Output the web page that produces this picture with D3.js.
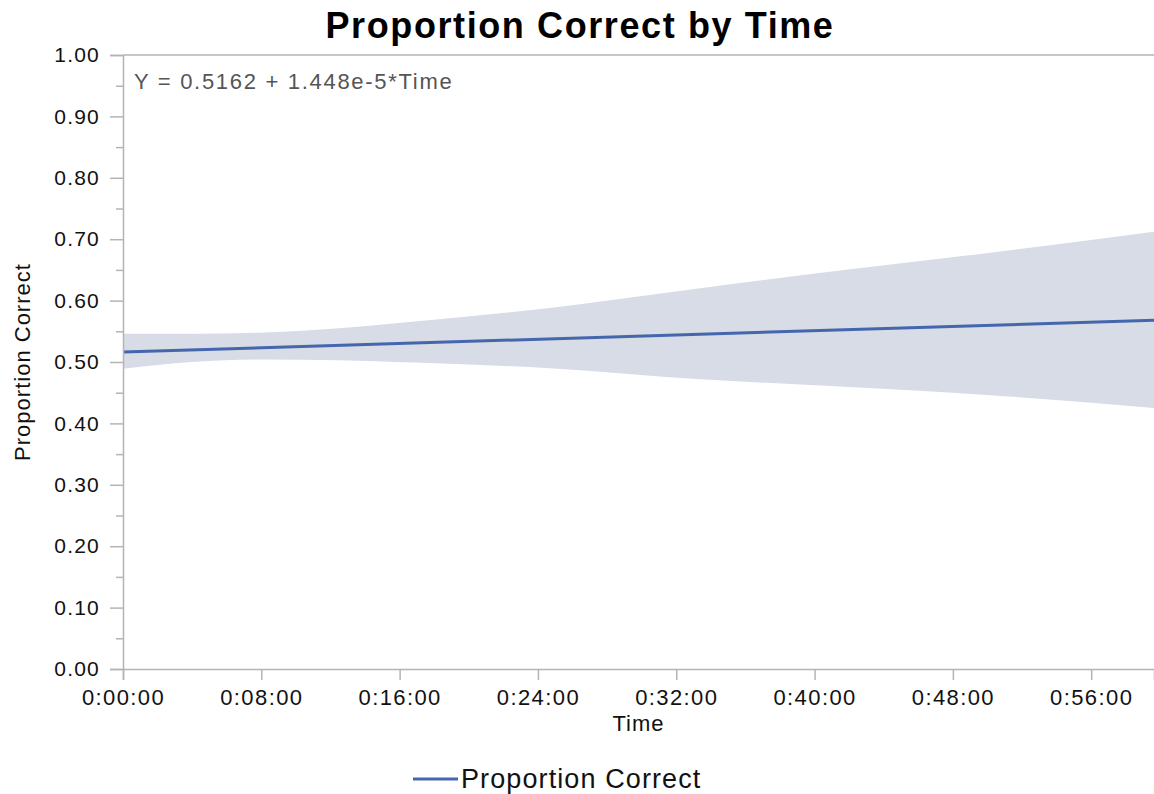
<!DOCTYPE html>
<html>
<head>
<meta charset="utf-8">
<script src="https://cdn.jsdelivr.net/npm/d3@7"></script>
<style>
  html, body { margin: 0; padding: 0; background: #fff; }
  svg { display: block; font-family: "Liberation Sans", Arial, Helvetica, sans-serif; }
</style>
</head>
<body>
<svg id="chart" width="1154" height="794"></svg>
<script>
// Linear fit of proportion correct against elapsed time (seconds)
const fitIntercept = 0.5162;
const fitSlope = 1.448e-5;
const timeRange = [0, 3578];

// Confidence band around the fit, sampled along time (seconds)
const bandTime  = [0,     240,   493,   750,   1013,  1482,  2003,  2488,  3009,  3578];
const bandUpper = [0.546, 0.546, 0.548, 0.555, 0.566, 0.588, 0.620, 0.649, 0.678, 0.712];
const bandLower = [0.489, 0.500, 0.504, 0.503, 0.499, 0.490, 0.472, 0.460, 0.446, 0.425];

// Axis ticks
const xTickSeconds = [0, 480, 960, 1440, 1920, 2400, 2880, 3360];
const yMajorTicks = [0, 0.1, 0.2, 0.3, 0.4, 0.5, 0.6, 0.7, 0.8, 0.9, 1.0];
const yMinorTicks = [0.05, 0.15, 0.25, 0.35, 0.45, 0.55, 0.65, 0.75, 0.85, 0.95];

const svg = d3.select("#chart");
const plot = { left: 123, right: 1154, top: 55, bottom: 669 };

const x = d3.scaleLinear().domain(timeRange).range([plot.left, plot.right]);
const y = d3.scaleLinear().domain([0, 1]).range([plot.bottom, plot.top]);

const axisColor = "#b4b4b4";

function fmtTime(s) {
  const h = Math.floor(s / 3600);
  const m = Math.floor((s % 3600) / 60);
  const sec = Math.round(s % 60);
  return h + ":" + String(m).padStart(2, "0") + ":" + String(sec).padStart(2, "0");
}

// Title
svg.append("text")
  .attr("x", 580).attr("y", 38)
  .attr("text-anchor", "middle")
  .attr("font-size", 36).attr("font-weight", "bold")
  .attr("letter-spacing", 1.6)
  .attr("fill", "#000")
  .text("Proportion Correct by Time");

// Confidence band
const bandData = bandTime.map((t, i) => ({ t, lo: bandLower[i], hi: bandUpper[i] }));
svg.append("path")
  .datum(bandData)
  .attr("fill", "#d7dce6")
  .attr("d", d3.area()
    .x(d => x(d.t))
    .y0(d => y(d.lo))
    .y1(d => y(d.hi))
    .curve(d3.curveMonotoneX));

// Fitted line
const fitData = timeRange.map(t => ({ t, v: fitIntercept + fitSlope * t }));
svg.append("path")
  .datum(fitData)
  .attr("fill", "none")
  .attr("stroke", "#4466ad")
  .attr("stroke-width", 3)
  .attr("d", d3.line().x(d => x(d.t)).y(d => y(d.v)));

// Y axis
const yAxisG = svg.append("g").attr("transform", `translate(${plot.left},0)`)
  .call(d3.axisLeft(y).tickValues(yMajorTicks).tickFormat(d3.format(".2f")).tickSize(13).tickPadding(10));
svg.append("g").attr("transform", `translate(${plot.left},0)`)
  .call(d3.axisLeft(y).tickValues(yMinorTicks).tickFormat("").tickSize(7))
  .call(g => g.select(".domain").remove());

// X axis
const xAxisG = svg.append("g").attr("transform", `translate(0,${plot.bottom})`)
  .call(d3.axisBottom(x).tickValues(xTickSeconds).tickFormat(fmtTime).tickSize(11).tickPadding(9));

svg.selectAll(".domain").attr("stroke", axisColor).attr("stroke-width", 1.5);
svg.selectAll(".tick line").attr("stroke", axisColor).attr("stroke-width", 1.5);
svg.selectAll(".tick text")
  .attr("fill", "#111")
  .attr("font-family", "Liberation Sans, Arial, sans-serif");
yAxisG.selectAll(".tick text").attr("font-size", 21).attr("letter-spacing", 1.2);
xAxisG.selectAll(".tick text").attr("font-size", 22).attr("letter-spacing", 1.4);

// Top frame line
svg.append("line")
  .attr("x1", plot.left).attr("x2", plot.right)
  .attr("y1", plot.top).attr("y2", plot.top)
  .attr("stroke", axisColor).attr("stroke-width", 1.5);

// Fit equation
svg.append("text")
  .attr("x", 134).attr("y", 89)
  .attr("font-size", 22)
  .attr("letter-spacing", 1.7)
  .attr("fill", "#555")
  .text(`Y = ${fitIntercept} + ${fitSlope.toExponential(3)}*Time`);

// Axis titles
svg.append("text")
  .attr("x", (plot.left + plot.right) / 2).attr("y", 731)
  .attr("text-anchor", "middle")
  .attr("font-size", 22).attr("letter-spacing", 1)
  .attr("fill", "#111")
  .text("Time");

svg.append("text")
  .attr("transform", `translate(30,${(plot.top + plot.bottom) / 2}) rotate(-90)`)
  .attr("text-anchor", "middle")
  .attr("font-size", 22).attr("letter-spacing", 1)
  .attr("fill", "#111")
  .text("Proportion Correct");

// Legend
svg.append("line")
  .attr("x1", 413).attr("x2", 458)
  .attr("y1", 779).attr("y2", 779)
  .attr("stroke", "#4466ad").attr("stroke-width", 3);
svg.append("text")
  .attr("x", 461).attr("y", 788)
  .attr("font-size", 27).attr("letter-spacing", 1.1)
  .attr("fill", "#111")
  .text("Proportion Correct");
</script>
</body>
</html>
